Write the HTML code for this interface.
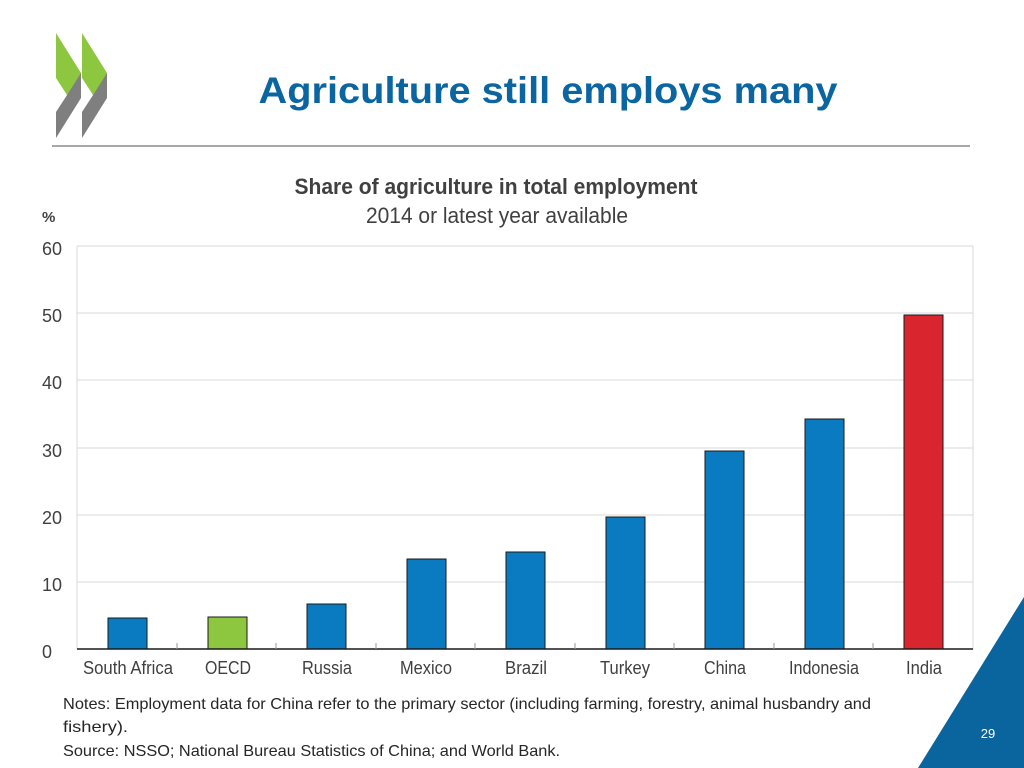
<!DOCTYPE html>
<html><head><meta charset="utf-8"><style>
html,body{margin:0;padding:0;background:#fff;}
svg{display:block;}
text{font-family:"Liberation Sans",Arial,sans-serif;}
</style></head><body>
<svg width="1024" height="768" viewBox="0 0 1024 768" xmlns="http://www.w3.org/2000/svg">
<!-- logo -->
<polygon points="56,33 81,73 81,80 69,98 56,78" fill="#8dc63f"/>
<polygon points="81,73 81,98 56,138 56,112 69,92" fill="#7f7f7f"/>
<polygon points="82,33 107,73 107,80 95,98 82,78" fill="#8dc63f"/>
<polygon points="107,73 107,98 82,138 82,112 95,92" fill="#7f7f7f"/>
<text x="548" y="103" font-size="37" font-weight="bold" fill="#0b65a0" text-anchor="middle" textLength="579" lengthAdjust="spacingAndGlyphs">Agriculture still employs many</text>
<line x1="52" y1="146" x2="970" y2="146" stroke="#8c8c8c" stroke-width="1.5"/>
<text x="496" y="194" font-size="22" font-weight="bold" fill="#404040" text-anchor="middle" textLength="403" lengthAdjust="spacingAndGlyphs">Share of agriculture in total employment</text>
<text x="497" y="223" font-size="22" fill="#404040" text-anchor="middle" textLength="262" lengthAdjust="spacingAndGlyphs">2014 or latest year available</text>
<text x="42" y="222" font-size="15" font-weight="bold" fill="#404040">%</text>
<!-- grid -->
<g stroke="#d9d9d9" stroke-width="1">
<line x1="77" y1="246" x2="973" y2="246"/>
<line x1="77" y1="313" x2="973" y2="313"/>
<line x1="77" y1="380" x2="973" y2="380"/>
<line x1="77" y1="448" x2="973" y2="448"/>
<line x1="77" y1="515" x2="973" y2="515"/>
<line x1="77" y1="582" x2="973" y2="582"/>
<line x1="77" y1="246" x2="77" y2="649"/>
<line x1="973" y1="246" x2="973" y2="649"/>
</g>
<g font-size="18" fill="#404040" text-anchor="middle">
<text x="52" y="255">60</text><text x="52" y="322">50</text><text x="52" y="389">40</text>
<text x="52" y="457">30</text><text x="52" y="524">20</text><text x="52" y="591">10</text><text x="47" y="658">0</text>
</g>
<!-- bars -->
<g stroke="#1a1a1a" stroke-width="1">
<rect x="108" y="618" width="39" height="31" fill="#0a7bc1"/>
<rect x="208" y="617" width="39" height="32" fill="#8dc63f"/>
<rect x="307" y="604" width="39" height="45" fill="#0a7bc1"/>
<rect x="407" y="559" width="39" height="90" fill="#0a7bc1"/>
<rect x="506" y="552" width="39" height="97" fill="#0a7bc1"/>
<rect x="606" y="517" width="39" height="132" fill="#0a7bc1"/>
<rect x="705" y="451" width="39" height="198" fill="#0a7bc1"/>
<rect x="805" y="419" width="39" height="230" fill="#0a7bc1"/>
<rect x="904" y="315" width="39" height="334" fill="#d9262e"/>
</g>
<line x1="77" y1="649" x2="973" y2="649" stroke="#1a1a1a" stroke-width="1.5"/>
<g stroke="#999" stroke-width="1">
<line x1="177" y1="643" x2="177" y2="649"/><line x1="276" y1="643" x2="276" y2="649"/>
<line x1="376" y1="643" x2="376" y2="649"/><line x1="475" y1="643" x2="475" y2="649"/>
<line x1="575" y1="643" x2="575" y2="649"/><line x1="674" y1="643" x2="674" y2="649"/>
<line x1="774" y1="643" x2="774" y2="649"/><line x1="873" y1="643" x2="873" y2="649"/>
</g>
<g font-size="18" fill="#404040" text-anchor="middle">
<text x="128" y="674" textLength="90" lengthAdjust="spacingAndGlyphs">South Africa</text>
<text x="228" y="674" textLength="46" lengthAdjust="spacingAndGlyphs">OECD</text>
<text x="327" y="674" textLength="50" lengthAdjust="spacingAndGlyphs">Russia</text>
<text x="426" y="674" textLength="52" lengthAdjust="spacingAndGlyphs">Mexico</text>
<text x="526" y="674" textLength="42" lengthAdjust="spacingAndGlyphs">Brazil</text>
<text x="625" y="674" textLength="50" lengthAdjust="spacingAndGlyphs">Turkey</text>
<text x="725" y="674" textLength="42" lengthAdjust="spacingAndGlyphs">China</text>
<text x="824" y="674" textLength="70" lengthAdjust="spacingAndGlyphs">Indonesia</text>
<text x="924" y="674" textLength="36" lengthAdjust="spacingAndGlyphs">India</text>
</g>
<g font-size="16" fill="#262626">
<text x="63" y="709" textLength="808" lengthAdjust="spacingAndGlyphs">Notes: Employment data for China refer to the primary sector (including farming, forestry, animal husbandry and</text>
<text x="63" y="732" textLength="65" lengthAdjust="spacingAndGlyphs">fishery).</text>
<text x="63" y="756" textLength="497" lengthAdjust="spacingAndGlyphs">Source: NSSO; National Bureau Statistics of China; and World Bank.</text>
</g>
<polygon points="1024,597 1024,768 918,768" fill="#0a659e"/>
<text x="988" y="738" font-size="13" fill="#fff" text-anchor="middle">29</text>
</svg>
</body></html>
